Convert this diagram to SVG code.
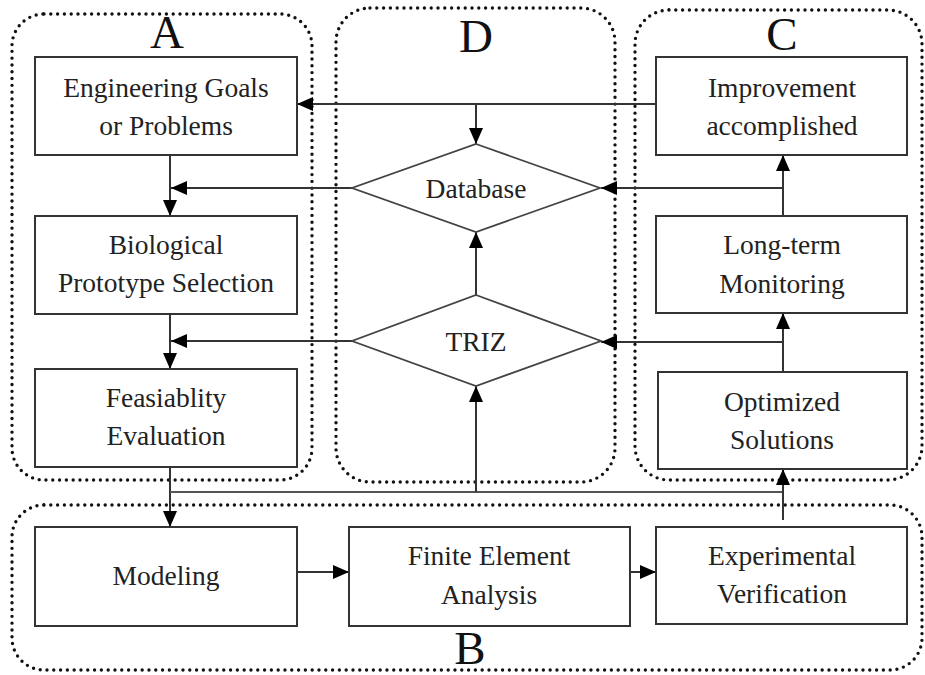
<svg xmlns="http://www.w3.org/2000/svg" width="925" height="675" viewBox="0 0 925 675">
<defs>
<style>
.panel{fill:none;stroke:#111;stroke-width:3.4;stroke-dasharray:0 6.8;stroke-linecap:round}
.box{fill:#fff;stroke:#333;stroke-width:2}
.dia{fill:#fff;stroke:#444;stroke-width:1.8}
.t{font-family:"Liberation Serif","Times New Roman",serif;font-size:27.5px;fill:#222;text-anchor:middle}
.lbl{font-family:"Liberation Serif","Times New Roman",serif;font-size:47px;fill:#111;text-anchor:middle}
.c{fill:none;stroke:#333;stroke-width:2}
.c2{fill:none;stroke:#555;stroke-width:2}
</style>
<marker id="ah" markerUnits="userSpaceOnUse" markerWidth="16" markerHeight="14" refX="16" refY="7" orient="auto">
<path d="M0,0 L16,7 L0,14 z" fill="#000"/>
</marker>
</defs>
<rect width="925" height="675" fill="#fff"/>

<g id="panels">
<rect class="panel" x="12" y="14" width="300" height="466" rx="32"/>
<rect class="panel" x="336" y="8" width="279" height="474" rx="34"/>
<rect class="panel" x="635" y="10" width="287" height="470" rx="34"/>
<rect class="panel" x="12" y="505" width="910" height="165" rx="32"/>
<text class="lbl" x="167" y="48">A</text>
<text class="lbl" x="476" y="52">D</text>
<text class="lbl" x="782" y="50">C</text>
<text class="lbl" x="470" y="664">B</text>
</g>

<g id="connectors">
<path class="c" d="M656,104 H297" marker-end="url(#ah)"/>
<path class="c" d="M476,104 V144" marker-end="url(#ah)"/>
<path class="c" d="M352,188 H171" marker-end="url(#ah)"/>
<path class="c" d="M170,155 V216" marker-end="url(#ah)"/>
<path class="c" d="M783,216 V155" marker-end="url(#ah)"/>
<path class="c" d="M783,188 H601" marker-end="url(#ah)"/>
<path class="c" d="M476,295 V232" marker-end="url(#ah)"/>
<path class="c" d="M352,341 H171" marker-end="url(#ah)"/>
<path class="c" d="M170,314 V369" marker-end="url(#ah)"/>
<path class="c" d="M783,372 V313" marker-end="url(#ah)"/>
<path class="c" d="M783,342 H601" marker-end="url(#ah)"/>
<path class="c" d="M170,467 V527" marker-end="url(#ah)"/>
<path class="c2" d="M170,492 H783"/>
<path class="c" d="M476,492 V386" marker-end="url(#ah)"/>
<path class="c" d="M783,520 V469" marker-end="url(#ah)"/>
<path class="c" d="M297,572 H349" marker-end="url(#ah)"/>
<path class="c" d="M630,572 H656" marker-end="url(#ah)"/>
</g>

<g id="n-eng">
<rect class="box" x="35" y="57" width="262" height="98"/>
<text class="t" x="166" y="97">Engineering Goals</text>
<text class="t" x="166" y="135">or Problems</text>
</g>
<g id="n-bio">
<rect class="box" x="35" y="216" width="262" height="98"/>
<text class="t" x="166" y="254">Biological</text>
<text class="t" x="166" y="292">Prototype Selection</text>
</g>
<g id="n-feas">
<rect class="box" x="35" y="369" width="262" height="98"/>
<text class="t" x="166" y="407">Feasiablity</text>
<text class="t" x="166" y="445">Evaluation</text>
</g>
<g id="n-db">
<polygon class="dia" points="476,144 600,188 476,232 352,188"/>
<text class="t" x="476" y="198">Database</text>
</g>
<g id="n-triz">
<polygon class="dia" points="476,295 601,341 476,386 352,341"/>
<text class="t" x="476" y="351">TRIZ</text>
</g>
<g id="n-imp">
<rect class="box" x="656" y="57" width="251" height="98"/>
<text class="t" x="782" y="97">Improvement</text>
<text class="t" x="782" y="135">accomplished</text>
</g>
<g id="n-mon">
<rect class="box" x="656" y="216" width="251" height="97"/>
<text class="t" x="782" y="254">Long-term</text>
<text class="t" x="782" y="293">Monitoring</text>
</g>
<g id="n-opt">
<rect class="box" x="658" y="372" width="249" height="97"/>
<text class="t" x="782" y="411">Optimized</text>
<text class="t" x="782" y="449">Solutions</text>
</g>
<g id="n-mod">
<rect class="box" x="35" y="527" width="262" height="99"/>
<text class="t" x="166" y="585">Modeling</text>
</g>
<g id="n-fea">
<rect class="box" x="349" y="527" width="281" height="99"/>
<text class="t" x="489" y="565">Finite Element</text>
<text class="t" x="489" y="604">Analysis</text>
</g>
<g id="n-exp">
<rect class="box" x="656" y="527" width="251" height="97"/>
<text class="t" x="782" y="565">Experimental</text>
<text class="t" x="782" y="603">Verification</text>
</g>
</svg>
